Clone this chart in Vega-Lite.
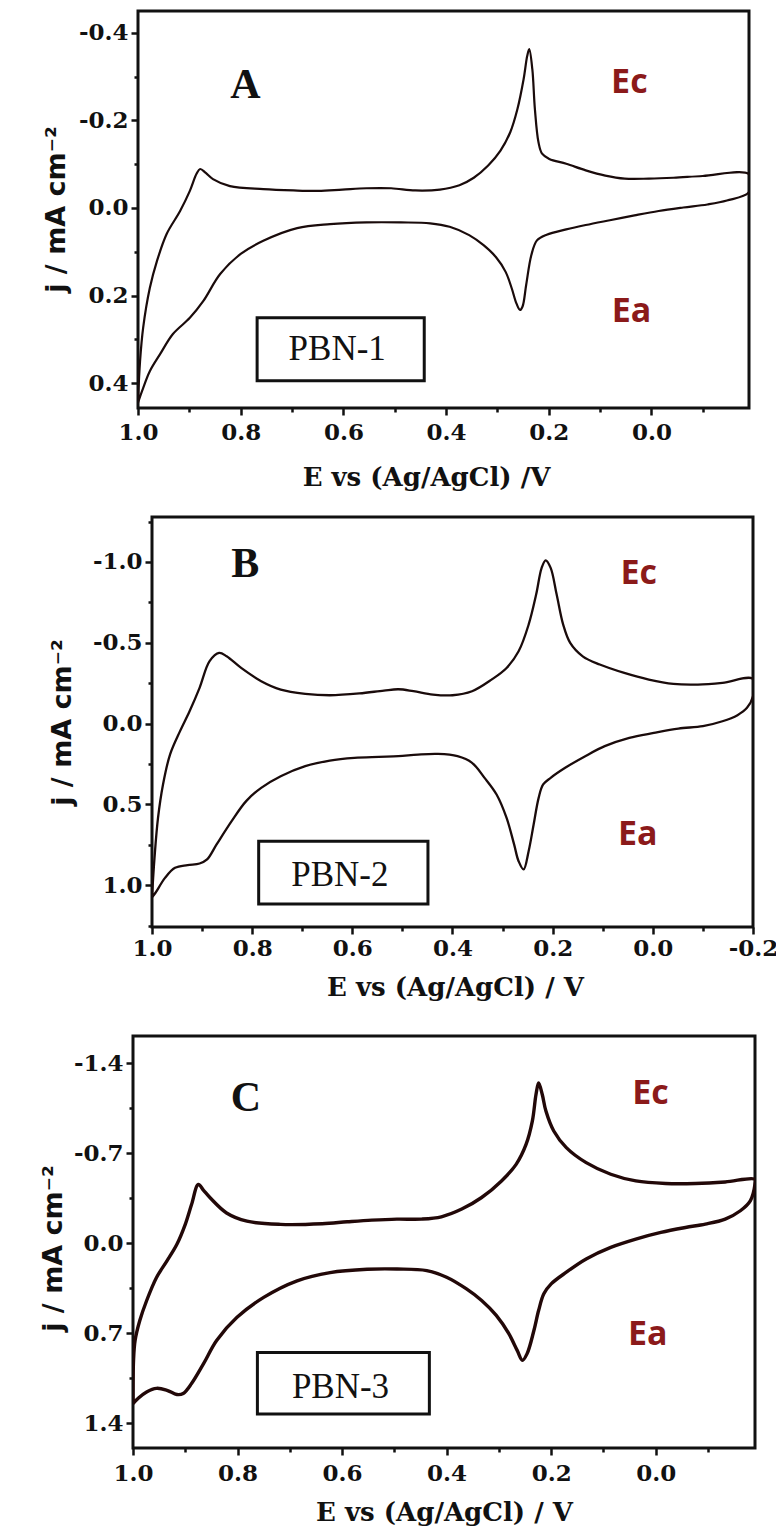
{
  "$schema": "https://vega.github.io/schema/vega-lite/v6.json",
  "background": "white",
  "padding": {"left": 0, "top": 9, "right": 0, "bottom": 0},
  "config": {
    "axis": {"domain": false, "grid": false, "tickColor": "#111", "tickWidth": 2.5, "labelFont": "DejaVu Serif", "labelFontWeight": "bold", "labelFontSize": 23, "labelColor": "#111", "titleColor": "#111", "labelFlush": false, "labelOverlap": false, "labelBound": false},
    "axisX": {"titleFont": "DejaVu Serif", "titleFontWeight": "bold", "titleFontSize": 26, "titleBaseline": "alphabetic"},
    "axisY": {"titleFont": "DejaVu Sans", "titleFontWeight": "bold", "titleFontSize": 27, "titleBaseline": "alphabetic", "labelPadding": 3}
  },
  "datasets": {
    "cvA": [
      {"i": 1, "E": 1.0, "j": 0.44}, {"i": 2, "E": 0.996, "j": 0.35}, {"i": 3, "E": 0.99, "j": 0.274}, {"i": 4, "E": 0.977, "j": 0.183}, {"i": 5, "E": 0.963, "j": 0.121}, {"i": 6, "E": 0.944, "j": 0.059}, {"i": 7, "E": 0.918, "j": 0.007}, {"i": 8, "E": 0.899, "j": -0.039}, {"i": 9, "E": 0.886, "j": -0.078}, {"i": 10, "E": 0.879, "j": -0.089}, {"i": 11, "E": 0.868, "j": -0.08}, {"i": 12, "E": 0.854, "j": -0.066}, {"i": 13, "E": 0.821, "j": -0.05}, {"i": 14, "E": 0.756, "j": -0.043}, {"i": 15, "E": 0.697, "j": -0.04}, {"i": 16, "E": 0.649, "j": -0.039}, {"i": 17, "E": 0.602, "j": -0.042}, {"i": 18, "E": 0.555, "j": -0.045}, {"i": 19, "E": 0.507, "j": -0.045}, {"i": 20, "E": 0.46, "j": -0.04}, {"i": 21, "E": 0.412, "j": -0.042}, {"i": 22, "E": 0.374, "j": -0.052}, {"i": 23, "E": 0.346, "j": -0.069}, {"i": 24, "E": 0.318, "j": -0.097}, {"i": 25, "E": 0.294, "j": -0.131}, {"i": 26, "E": 0.275, "j": -0.173}, {"i": 27, "E": 0.261, "j": -0.226}, {"i": 28, "E": 0.249, "j": -0.294}, {"i": 29, "E": 0.242, "j": -0.347}, {"i": 30, "E": 0.238, "j": -0.363}, {"i": 31, "E": 0.232, "j": -0.317}, {"i": 32, "E": 0.227, "j": -0.226}, {"i": 33, "E": 0.22, "j": -0.15}, {"i": 34, "E": 0.213, "j": -0.124}, {"i": 35, "E": 0.199, "j": -0.112}, {"i": 36, "E": 0.166, "j": -0.101}, {"i": 37, "E": 0.128, "j": -0.086}, {"i": 38, "E": 0.09, "j": -0.074}, {"i": 39, "E": 0.052, "j": -0.067}, {"i": 40, "E": 0.005, "j": -0.067}, {"i": 41, "E": -0.043, "j": -0.069}, {"i": 42, "E": -0.1, "j": -0.073}, {"i": 43, "E": -0.19, "j": -0.077},
      {"i": 44, "E": -0.19, "j": -0.036}, {"i": 45, "E": -0.147, "j": -0.017}, {"i": 46, "E": -0.109, "j": -0.008}, {"i": 47, "E": -0.062, "j": -0.001}, {"i": 48, "E": -0.014, "j": 0.007}, {"i": 49, "E": 0.033, "j": 0.017}, {"i": 50, "E": 0.081, "j": 0.028}, {"i": 51, "E": 0.128, "j": 0.039}, {"i": 52, "E": 0.166, "j": 0.049}, {"i": 53, "E": 0.204, "j": 0.061}, {"i": 54, "E": 0.223, "j": 0.074}, {"i": 55, "E": 0.234, "j": 0.108}, {"i": 56, "E": 0.244, "j": 0.176}, {"i": 57, "E": 0.251, "j": 0.225}, {"i": 58, "E": 0.256, "j": 0.233}, {"i": 59, "E": 0.263, "j": 0.218}, {"i": 60, "E": 0.272, "j": 0.184}, {"i": 61, "E": 0.284, "j": 0.146}, {"i": 62, "E": 0.303, "j": 0.112}, {"i": 63, "E": 0.327, "j": 0.085}, {"i": 64, "E": 0.355, "j": 0.062}, {"i": 65, "E": 0.393, "j": 0.043}, {"i": 66, "E": 0.431, "j": 0.035}, {"i": 67, "E": 0.488, "j": 0.033}, {"i": 68, "E": 0.555, "j": 0.033}, {"i": 69, "E": 0.626, "j": 0.037}, {"i": 70, "E": 0.69, "j": 0.046}, {"i": 71, "E": 0.756, "j": 0.075}, {"i": 72, "E": 0.8, "j": 0.105}, {"i": 73, "E": 0.84, "j": 0.151}, {"i": 74, "E": 0.873, "j": 0.213}, {"i": 75, "E": 0.899, "j": 0.251}, {"i": 76, "E": 0.932, "j": 0.288}, {"i": 77, "E": 0.957, "j": 0.334}, {"i": 78, "E": 0.977, "j": 0.373}, {"i": 79, "E": 0.992, "j": 0.418}, {"i": 80, "E": 1.0, "j": 0.445}
    ],
    "cvB": [
      {"i": 1, "E": 1.0, "j": 1.07}, {"i": 2, "E": 0.995, "j": 0.831}, {"i": 3, "E": 0.988, "j": 0.584}, {"i": 4, "E": 0.978, "j": 0.377}, {"i": 5, "E": 0.964, "j": 0.192}, {"i": 6, "E": 0.944, "j": 0.047}, {"i": 7, "E": 0.925, "j": -0.076}, {"i": 8, "E": 0.905, "j": -0.221}, {"i": 9, "E": 0.885, "j": -0.386}, {"i": 10, "E": 0.866, "j": -0.437}, {"i": 11, "E": 0.851, "j": -0.416}, {"i": 12, "E": 0.822, "j": -0.344}, {"i": 13, "E": 0.782, "j": -0.262}, {"i": 14, "E": 0.743, "j": -0.21}, {"i": 15, "E": 0.694, "j": -0.184}, {"i": 16, "E": 0.645, "j": -0.175}, {"i": 17, "E": 0.586, "j": -0.186}, {"i": 18, "E": 0.537, "j": -0.204}, {"i": 19, "E": 0.508, "j": -0.212}, {"i": 20, "E": 0.478, "j": -0.2}, {"i": 21, "E": 0.439, "j": -0.179}, {"i": 22, "E": 0.4, "j": -0.175}, {"i": 23, "E": 0.361, "j": -0.2}, {"i": 24, "E": 0.322, "j": -0.272}, {"i": 25, "E": 0.292, "j": -0.344}, {"i": 26, "E": 0.268, "j": -0.447}, {"i": 27, "E": 0.248, "j": -0.612}, {"i": 28, "E": 0.233, "j": -0.798}, {"i": 29, "E": 0.222, "j": -0.963}, {"i": 30, "E": 0.214, "j": -1.01}, {"i": 31, "E": 0.204, "j": -0.963}, {"i": 32, "E": 0.192, "j": -0.798}, {"i": 33, "E": 0.179, "j": -0.612}, {"i": 34, "E": 0.165, "j": -0.499}, {"i": 35, "E": 0.14, "j": -0.416}, {"i": 36, "E": 0.106, "j": -0.365}, {"i": 37, "E": 0.057, "j": -0.313}, {"i": 38, "E": 0.008, "j": -0.272}, {"i": 39, "E": -0.041, "j": -0.245}, {"i": 40, "E": -0.09, "j": -0.241}, {"i": 41, "E": -0.139, "j": -0.252}, {"i": 42, "E": -0.2, "j": -0.276},
      {"i": 43, "E": -0.2, "j": -0.169}, {"i": 44, "E": -0.188, "j": -0.097}, {"i": 45, "E": -0.169, "j": -0.052}, {"i": 46, "E": -0.139, "j": -0.014}, {"i": 47, "E": -0.1, "j": 0.016}, {"i": 48, "E": -0.051, "j": 0.031}, {"i": 49, "E": -0.002, "j": 0.058}, {"i": 50, "E": 0.047, "j": 0.089}, {"i": 51, "E": 0.096, "j": 0.14}, {"i": 52, "E": 0.135, "j": 0.202}, {"i": 53, "E": 0.175, "j": 0.274}, {"i": 54, "E": 0.204, "j": 0.336}, {"i": 55, "E": 0.219, "j": 0.377}, {"i": 56, "E": 0.228, "j": 0.46}, {"i": 57, "E": 0.238, "j": 0.625}, {"i": 58, "E": 0.248, "j": 0.79}, {"i": 59, "E": 0.258, "j": 0.903}, {"i": 60, "E": 0.268, "j": 0.852}, {"i": 61, "E": 0.277, "j": 0.748}, {"i": 62, "E": 0.292, "j": 0.584}, {"i": 63, "E": 0.312, "j": 0.439}, {"i": 64, "E": 0.336, "j": 0.336}, {"i": 65, "E": 0.361, "j": 0.243}, {"i": 66, "E": 0.39, "j": 0.202}, {"i": 67, "E": 0.429, "j": 0.188}, {"i": 68, "E": 0.469, "j": 0.192}, {"i": 69, "E": 0.508, "j": 0.202}, {"i": 70, "E": 0.547, "j": 0.206}, {"i": 71, "E": 0.596, "j": 0.212}, {"i": 72, "E": 0.645, "j": 0.229}, {"i": 73, "E": 0.694, "j": 0.264}, {"i": 74, "E": 0.743, "j": 0.326}, {"i": 75, "E": 0.782, "j": 0.398}, {"i": 76, "E": 0.812, "j": 0.48}, {"i": 77, "E": 0.841, "j": 0.604}, {"i": 78, "E": 0.871, "j": 0.748}, {"i": 79, "E": 0.89, "j": 0.841}, {"i": 80, "E": 0.905, "j": 0.866}, {"i": 81, "E": 0.929, "j": 0.876}, {"i": 82, "E": 0.954, "j": 0.893}, {"i": 83, "E": 0.974, "j": 0.955}, {"i": 84, "E": 0.993, "j": 1.047}, {"i": 85, "E": 1.0, "j": 1.075}
    ],
    "cvC": [
      {"i": 1, "E": 1.0, "j": 1.25}, {"i": 2, "E": 0.999, "j": 0.913}, {"i": 3, "E": 0.996, "j": 0.758}, {"i": 4, "E": 0.987, "j": 0.603}, {"i": 5, "E": 0.974, "j": 0.449}, {"i": 6, "E": 0.955, "j": 0.268}, {"i": 7, "E": 0.935, "j": 0.139}, {"i": 8, "E": 0.916, "j": 0.01}, {"i": 9, "E": 0.9, "j": -0.145}, {"i": 10, "E": 0.888, "j": -0.299}, {"i": 11, "E": 0.875, "j": -0.456}, {"i": 12, "E": 0.865, "j": -0.41}, {"i": 13, "E": 0.852, "j": -0.35}, {"i": 14, "E": 0.821, "j": -0.234}, {"i": 15, "E": 0.782, "j": -0.17}, {"i": 16, "E": 0.718, "j": -0.145}, {"i": 17, "E": 0.638, "j": -0.15}, {"i": 18, "E": 0.59, "j": -0.165}, {"i": 19, "E": 0.543, "j": -0.178}, {"i": 20, "E": 0.495, "j": -0.186}, {"i": 21, "E": 0.448, "j": -0.186}, {"i": 22, "E": 0.41, "j": -0.204}, {"i": 23, "E": 0.371, "j": -0.264}, {"i": 24, "E": 0.333, "j": -0.354}, {"i": 25, "E": 0.295, "j": -0.483}, {"i": 26, "E": 0.267, "j": -0.612}, {"i": 27, "E": 0.248, "j": -0.767}, {"i": 28, "E": 0.236, "j": -0.948}, {"i": 29, "E": 0.229, "j": -1.155}, {"i": 30, "E": 0.224, "j": -1.245}, {"i": 31, "E": 0.217, "j": -1.155}, {"i": 32, "E": 0.21, "j": -1.026}, {"i": 33, "E": 0.195, "j": -0.871}, {"i": 34, "E": 0.171, "j": -0.742}, {"i": 35, "E": 0.133, "j": -0.625}, {"i": 36, "E": 0.086, "j": -0.535}, {"i": 37, "E": 0.038, "j": -0.483}, {"i": 38, "E": -0.019, "j": -0.463}, {"i": 39, "E": -0.076, "j": -0.463}, {"i": 40, "E": -0.133, "j": -0.475}, {"i": 41, "E": -0.19, "j": -0.496},
      {"i": 42, "E": -0.19, "j": -0.457}, {"i": 43, "E": -0.181, "j": -0.328}, {"i": 44, "E": -0.162, "j": -0.251}, {"i": 45, "E": -0.133, "j": -0.186}, {"i": 46, "E": -0.095, "j": -0.147}, {"i": 47, "E": -0.057, "j": -0.121}, {"i": 48, "E": -0.01, "j": -0.083}, {"i": 49, "E": 0.038, "j": -0.031}, {"i": 50, "E": 0.086, "j": 0.034}, {"i": 51, "E": 0.133, "j": 0.124}, {"i": 52, "E": 0.171, "j": 0.227}, {"i": 53, "E": 0.2, "j": 0.318}, {"i": 54, "E": 0.214, "j": 0.395}, {"i": 55, "E": 0.224, "j": 0.525}, {"i": 56, "E": 0.233, "j": 0.68}, {"i": 57, "E": 0.246, "j": 0.86}, {"i": 58, "E": 0.255, "j": 0.912}, {"i": 59, "E": 0.265, "j": 0.835}, {"i": 60, "E": 0.281, "j": 0.705}, {"i": 61, "E": 0.305, "j": 0.563}, {"i": 62, "E": 0.333, "j": 0.447}, {"i": 63, "E": 0.362, "j": 0.357}, {"i": 64, "E": 0.4, "j": 0.266}, {"i": 65, "E": 0.438, "j": 0.214}, {"i": 66, "E": 0.495, "j": 0.202}, {"i": 67, "E": 0.552, "j": 0.204}, {"i": 68, "E": 0.623, "j": 0.23}, {"i": 69, "E": 0.686, "j": 0.294}, {"i": 70, "E": 0.75, "j": 0.423}, {"i": 71, "E": 0.801, "j": 0.578}, {"i": 72, "E": 0.84, "j": 0.758}, {"i": 73, "E": 0.865, "j": 0.938}, {"i": 74, "E": 0.888, "j": 1.093}, {"i": 75, "E": 0.904, "j": 1.17}, {"i": 76, "E": 0.916, "j": 1.178}, {"i": 77, "E": 0.935, "j": 1.145}, {"i": 78, "E": 0.955, "j": 1.13}, {"i": 79, "E": 0.974, "j": 1.158}, {"i": 80, "E": 0.99, "j": 1.207}, {"i": 81, "E": 1.0, "j": 1.25}
    ]
  },
  "vconcat": [
    {
      "hconcat": [
        {"width": 138, "height": 397, "view": {"stroke": null, "fill": "white"}, "data": {"values": []}, "mark": "point", "encoding": {}},
        {
          "width": 611, "height": 397,
          "view": {"stroke": "#111", "strokeWidth": 3},
          "encoding": {
            "x": {"field": "E", "type": "quantitative", "scale": {"domain": [-0.19, 1.0], "reverse": true, "nice": false, "zero": false},
              "axis": {"title": "E vs (Ag/AgCl) /V", "values": [1.0, 0.9, 0.8, 0.7, 0.6, 0.5, 0.4, 0.3, 0.2, 0.1, 0.0, -0.1],
                "labelExpr": "abs(round(datum.value*10)) % 2 == 0 ? replace(format(datum.value, '.1f'), '−', '-') : ''",
                "tickSize": {"condition": {"test": "abs(round(datum.value*10)) % 2 == 1", "value": 4}, "value": 7},
                "labelPadding": 6, "titleX": 288, "titleY": 77}},
            "y": {"field": "j", "type": "quantitative", "scale": {"domain": [-0.45, 0.457], "reverse": true, "nice": false, "zero": false},
              "axis": {"title": "j / mA cm⁻²", "values": [-0.4, -0.3, -0.2, -0.1, 0.0, 0.1, 0.2, 0.3, 0.4],
                "labelExpr": "abs(round(datum.value*10)) % 2 == 0 ? replace(format(datum.value, '.1f'), '−', '-') : ''",
                "tickSize": {"condition": {"test": "abs(round(datum.value*10)) % 2 == 1", "value": 4}, "value": 7},
                "titleX": -74, "titleY": 198}}
          },
          "layer": [
            {"data": {"name": "cvA"}, "mark": {"type": "line", "color": "#1a0b0b", "strokeWidth": 2.2, "clip": true, "interpolate": "catmull-rom"}, "encoding": {"order": {"field": "i", "type": "quantitative"}}},
            {"data": {"values": [{"E": 0.768, "E2": 0.4425, "j": 0.251, "j2": 0.395}]}, "mark": {"type": "rect", "fill": "white", "stroke": "#111", "strokeWidth": 3}, "encoding": {"x2": {"field": "E2"}, "y2": {"field": "j2"}}},
            {"data": {"values": [{"E": 0.612, "j": 0.323, "t": "PBN-1"}]}, "mark": {"type": "text", "font": "Liberation Serif", "fontSize": 35, "color": "#111", "baseline": "middle"}, "encoding": {"text": {"field": "t"}}},
            {"data": {"values": [{"E": 0.791, "j": -0.281, "t": "A"}]}, "mark": {"type": "text", "font": "Liberation Serif", "fontWeight": "bold", "fontSize": 42, "color": "#111", "baseline": "middle"}, "encoding": {"text": {"field": "t"}}},
            {"data": {"values": [{"E": 0.043, "j": -0.286, "t": "Ec"}, {"E": 0.039, "j": 0.238, "t": "Ea"}]}, "mark": {"type": "text", "font": "Open Sans", "fontWeight": "bold", "fontSize": 34, "color": "#8b1a1a", "baseline": "middle"}, "encoding": {"text": {"field": "t"}}}
          ]
        }
      ],
      "spacing": 0,
      "bounds": "flush"
    },
    {
      "vconcat": [
        {
          "hconcat": [
            {"width": 152, "height": 410, "view": {"stroke": null, "fill": "white"}, "data": {"values": []}, "mark": "point", "encoding": {}},
            {
              "width": 601, "height": 410,
              "view": {"stroke": "#111", "strokeWidth": 3},
              "encoding": {
                "x": {"field": "E", "type": "quantitative", "scale": {"domain": [-0.2, 1.0], "reverse": true, "nice": false, "zero": false},
                  "axis": {"title": "E vs (Ag/AgCl) / V", "values": [1.0, 0.9, 0.8, 0.7, 0.6, 0.5, 0.4, 0.3, 0.2, 0.1, 0.0, -0.1, -0.2],
                    "labelExpr": "abs(round(datum.value*10)) % 2 == 0 ? replace(format(datum.value, '.1f'), '−', '-') : ''",
                    "tickSize": {"condition": {"test": "abs(round(datum.value*10)) % 2 == 1", "value": 4}, "value": 7},
                    "labelPadding": 3, "titleX": 303, "titleY": 68}},
                "y": {"field": "j", "type": "quantitative", "scale": {"domain": [-1.278, 1.259], "reverse": true, "nice": false, "zero": false},
                  "axis": {"title": "j / mA cm⁻²", "values": [-1.25, -1.0, -0.75, -0.5, -0.25, 0.0, 0.25, 0.5, 0.75, 1.0, 1.25],
                    "labelExpr": "abs(round(datum.value*4)) % 2 == 0 ? replace(format(datum.value, '.1f'), '−', '-') : ''",
                    "tickSize": {"condition": {"test": "abs(round(datum.value*4)) % 2 == 1", "value": 4}, "value": 7},
                    "titleX": -82, "titleY": 205}}
              },
              "layer": [
                {"data": {"name": "cvB"}, "mark": {"type": "line", "color": "#1a0b0b", "strokeWidth": 2.3, "clip": true, "interpolate": "catmull-rom"}, "encoding": {"order": {"field": "i", "type": "quantitative"}}},
                {"data": {"values": [{"E": 0.787, "E2": 0.449, "j": 0.728, "j2": 1.117}]}, "mark": {"type": "rect", "fill": "white", "stroke": "#111", "strokeWidth": 3}, "encoding": {"x2": {"field": "E2"}, "y2": {"field": "j2"}}},
                {"data": {"values": [{"E": 0.625, "j": 0.938, "t": "PBN-2"}]}, "mark": {"type": "text", "font": "Liberation Serif", "fontSize": 35, "color": "#111", "baseline": "middle"}, "encoding": {"text": {"field": "t"}}},
                {"data": {"values": [{"E": 0.814, "j": -0.988, "t": "B"}]}, "mark": {"type": "text", "font": "Liberation Serif", "fontWeight": "bold", "fontSize": 42, "color": "#111", "baseline": "middle"}, "encoding": {"text": {"field": "t"}}},
                {"data": {"values": [{"E": 0.028, "j": -0.926, "t": "Ec"}, {"E": 0.03, "j": 0.691, "t": "Ea"}]}, "mark": {"type": "text", "font": "Open Sans", "fontWeight": "bold", "fontSize": 34, "color": "#8b1a1a", "baseline": "middle"}, "encoding": {"text": {"field": "t"}}}
              ]
            }
          ],
          "spacing": 0,
          "bounds": "flush"
        },
        {
          "hconcat": [
            {"width": 133, "height": 412, "view": {"stroke": null, "fill": "white"}, "data": {"values": []}, "mark": "point", "encoding": {}},
            {
              "width": 622, "height": 412,
              "view": {"stroke": "#111", "strokeWidth": 3},
              "encoding": {
                "x": {"field": "E", "type": "quantitative", "scale": {"domain": [-0.19, 1.0], "reverse": true, "nice": false, "zero": false},
                  "axis": {"title": "E vs (Ag/AgCl) / V", "values": [1.0, 0.9, 0.8, 0.7, 0.6, 0.5, 0.4, 0.3, 0.2, 0.1, 0.0, -0.1],
                    "labelExpr": "abs(round(datum.value*10)) % 2 == 0 ? replace(format(datum.value, '.1f'), '−', '-') : ''",
                    "tickSize": {"condition": {"test": "abs(round(datum.value*10)) % 2 == 1", "value": 4}, "value": 7},
                    "labelPadding": 7, "titleX": 311, "titleY": 72}},
                "y": {"field": "j", "type": "quantitative", "scale": {"domain": [-1.61, 1.594], "reverse": true, "nice": false, "zero": false},
                  "axis": {"title": "j / mA cm⁻²", "values": [-1.4, -1.05, -0.7, -0.35, 0.0, 0.35, 0.7, 1.05, 1.4],
                    "labelExpr": "abs(round(datum.value/0.35)) % 2 == 0 ? replace(format(datum.value, '.1f'), '−', '-') : ''",
                    "tickSize": {"condition": {"test": "abs(round(datum.value/0.35)) % 2 == 1", "value": 4}, "value": 7},
                    "titleX": -72, "titleY": 212}}
              },
              "layer": [
                {"data": {"name": "cvC"}, "mark": {"type": "line", "color": "#220808", "strokeWidth": 3.4, "clip": true, "interpolate": "catmull-rom"}, "encoding": {"order": {"field": "i", "type": "quantitative"}}},
                {"data": {"values": [{"E": 0.762, "E2": 0.433, "j": 0.851, "j2": 1.33}]}, "mark": {"type": "rect", "fill": "white", "stroke": "#111", "strokeWidth": 3}, "encoding": {"x2": {"field": "E2"}, "y2": {"field": "j2"}}},
                {"data": {"values": [{"E": 0.603, "j": 1.121, "t": "PBN-3"}]}, "mark": {"type": "text", "font": "Liberation Serif", "fontSize": 35, "color": "#111", "baseline": "middle"}, "encoding": {"text": {"field": "t"}}},
                {"data": {"values": [{"E": 0.784, "j": -1.128, "t": "C"}]}, "mark": {"type": "text", "font": "Liberation Serif", "fontWeight": "bold", "fontSize": 42, "color": "#111", "baseline": "middle"}, "encoding": {"text": {"field": "t"}}},
                {"data": {"values": [{"E": 0.01, "j": -1.159, "t": "Ec"}, {"E": 0.015, "j": 0.716, "t": "Ea"}]}, "mark": {"type": "text", "font": "Open Sans", "fontWeight": "bold", "fontSize": 34, "color": "#8b1a1a", "baseline": "middle"}, "encoding": {"text": {"field": "t"}}}
              ]
            }
          ],
          "spacing": 0,
          "bounds": "flush"
        }
      ],
      "spacing": 519,
      "bounds": "flush"
    }
  ],
  "spacing": 506,
  "bounds": "flush"
}
